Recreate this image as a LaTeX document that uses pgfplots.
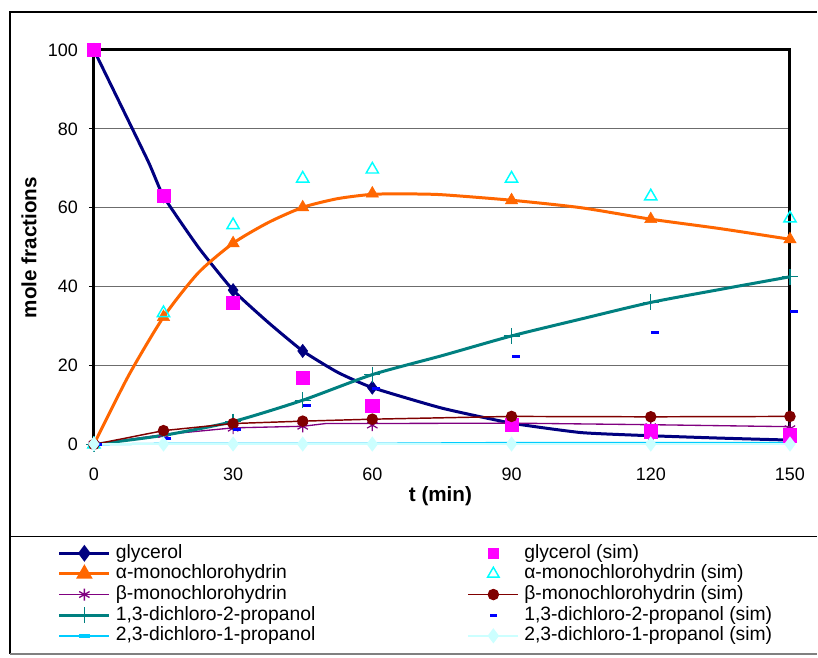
\documentclass[border=0pt]{standalone}
\usepackage{pgfplots}
\pgfplotsset{compat=1.18}
\usepackage{fontspec}
\setmainfont{Liberation Sans}
\definecolor{navyc}{HTML}{000080}
\definecolor{orangec}{HTML}{FF6600}
\definecolor{purplec}{HTML}{800080}
\definecolor{tealc}{HTML}{008080}
\definecolor{skyc}{HTML}{00CCFF}
\definecolor{magc}{HTML}{FF00FF}
\definecolor{cyanc}{HTML}{00FFFF}
\definecolor{darkredc}{HTML}{800000}
\definecolor{bluec}{HTML}{0000FF}
\definecolor{lightcyanc}{HTML}{CCFFFF}
\begin{document}
\begin{tikzpicture}
\path[fill=white] (0,0) rectangle (613.5pt,493.5pt);
\draw[line width=1.1pt] (613.5pt,484.5pt) -- (7.5pt,484.5pt) -- (7.5pt,2.25pt);
\draw[line width=1.6pt, gray] (7.5pt,2.25pt) -- (613.5pt,2.25pt);
\draw[line width=0.8pt] (7.5pt,90.75pt) -- (613.5pt,90.75pt);
\node[font=\bfseries\fontsize{15.5}{18}\selectfont] at (330.75pt,120.75pt) {t (min)};
\node[font=\bfseries\fontsize{15.5}{18}\selectfont, rotate=90] at (21.75pt,307.5pt) {mole fractions};
\begin{axis}[
  at={(70.5pt,159.75pt)}, anchor=south west,
  scale only axis, width=522.75pt, height=296.25pt,
  xmin=0, xmax=150, ymin=0, ymax=100,
  xtick={0,30,...,150}, ytick={0,20,...,100},
  /pgf/number format/assume math mode=true,
  axis line style={draw=none},
  clip=false,
  ymajorgrids, grid style={line width=0.8pt, gray!85!black},
  tick align=outside, major tick length=3.75pt,
  ytick pos=left, xtick pos=bottom,
  xtick style={draw=none},
  ytick style={black, line width=0.6pt},
  tick label style={font=\fontsize{13.5}{16}\selectfont, inner sep=0pt},
  yticklabel style={xshift=-8pt},
  xticklabel style={yshift=-13.5pt},
  legend columns=2,
  legend cell align=left,
  legend image code/.code={\draw[mark repeat=2,mark phase=2,#1] plot coordinates {(0pt,0pt)(18.75pt,0pt)(37.5pt,0pt)};},
  legend style={draw=none, fill=none, inner sep=0pt, outer sep=0pt,
    at={(axis description cs:-0.05165,-0.2514)}, anchor=north west,
    font=\fontsize{14.5}{17}\selectfont,
    nodes={inner sep=0pt, text height=11pt, text depth=3.5pt},
    row sep=1pt,
    /tikz/column 1/.style={column sep=3.75pt},
    /tikz/column 3/.style={column sep=3.75pt},
    /tikz/column 2/.style={nodes={text width=264pt}}},
]
% frame
\draw[line width=2.25pt, black] (rel axis cs:0,0) -- (rel axis cs:0,1) -- (rel axis cs:1,1) -- (rel axis cs:1,0);
\draw[line width=0.8pt, black] (rel axis cs:0,0) -- (rel axis cs:1,0);

% glycerol
\addplot[navyc, line width=2.25pt, smooth, tension=0.3, forget plot] coordinates {
(0,100)(11.6,72)(15,62.9)(22.5,50)(30,39.1)(37.5,31)(45,23.7)(52.5,18.3)(60,14.4)(75,9.2)(90,5.4)(105,3.0)(120,2.2)(135,1.6)(150,1.1)};
\addplot[only marks, mark=diamond*, mark size=5pt, navyc, forget plot] coordinates {
(0,100)(15,62.9)(30,39.1)(45,23.7)(60,14.4)(90,5.4)(120,2.2)(150,1.1)};
% alpha
\addplot[orangec, line width=2.25pt, smooth, tension=0.4, forget plot] coordinates {
(0,0)(7.5,17.5)(15,32.3)(22.5,43.5)(30,51)(37.5,56.2)(45,60.1)(52.5,62.3)(60,63.4)(67.5,63.5)(75,63.3)(90,61.9)(105,60)(120,57.1)(135,54.7)(150,52)};
\addplot[only marks, mark=triangle*, mark size=5.3pt, orangec, forget plot] coordinates {
(0,0)(15,32.3)(30,51)(45,60.1)(60,63.6)(90,61.9)(120,57.1)(150,52)};
% beta
\addplot[purplec, line width=1pt, forget plot] coordinates {
(0,0)(15,2.5)(30,4.2)(45,4.6)(50,5.3)(60,5.3)(90,5.4)(120,5)(150,4.5)};
\addplot[only marks, mark=asterisk, mark size=4.5pt, purplec, line width=0.9pt, forget plot] coordinates {
(0,0)(15,2.5)(30,4.1)(45,4.6)(60,4.9)(90,4.9)(120,4.5)(150,4.0)};
% 1,3-dichloro-2-propanol
\addplot[tealc, line width=2.25pt, smooth, tension=0.4, forget plot] coordinates {
(0,0)(15,2.3)(30,5.8)(45,11.2)(60,17.7)(75,22.5)(90,27.5)(105,31.8)(120,36)(135,39.3)(150,42.5)};
\addplot[only marks, mark=+, mark size=6pt, tealc, line width=1pt, forget plot] coordinates {
(0,0)(15,2.3)(30,5.8)(45,11.2)(60,17.7)(90,27.5)(120,36)(150,42.5)};
% 2,3-dichloro-1-propanol
\addplot[skyc, line width=1.5pt, mark=-, mark size=3pt, mark options={line width=2pt}, forget plot] coordinates {
(0,0)(15,0.2)(30,0.2)(45,0.2)(60,0.2)(90,0.4)(120,0.4)(150,0.4)};
% glycerol sim
\addplot[only marks, mark=square*, mark size=5pt, magc, forget plot] coordinates {
(0,100)(15,63)(30,35.9)(45,16.9)(60,9.8)(90,5)(120,3.3)(150,2.3)};
% alpha sim
\addplot[only marks, mark=triangle, mark size=5.3pt, cyanc, line width=1.1pt, forget plot] coordinates {
(0,0)(15,33.3)(30,55.6)(45,67.4)(60,69.7)(90,67.4)(120,62.9)(150,57.3)};
% beta sim
\addplot[darkredc, line width=1.1pt, mark=*, mark size=3.75pt, forget plot] coordinates {
(0,0)(15,3.5)(30,5.3)(45,5.9)(60,6.4)(90,7.1)(120,7.0)(150,7.1)};
% 1,3 sim
\addplot[only marks, mark=-, mark size=3pt, bluec, line width=2.25pt, mark options={xshift=3pt}, forget plot] coordinates {
(0,0)(15,1.5)(30,3.8)(45,9.9)(60,14.1)(90,22.2)(120,28.4)(150,33.7)};
% 2,3 sim
\addplot[lightcyanc, line width=1.5pt, mark=diamond*, mark size=4.5pt, forget plot] coordinates {
(0,0.1)(15,0.1)(30,0.1)(45,0.1)(60,0.1)(90,0.1)(120,0.1)(150,0.1)};

% legend
\addlegendimage{navyc, line width=2.25pt, mark=diamond*, mark size=4.5pt}
\addlegendentry{glycerol}
\addlegendimage{only marks, mark=square*, mark size=4pt, magc}
\addlegendentry{glycerol (sim)}
\addlegendimage{orangec, line width=2.25pt, mark=triangle*, mark size=5pt}
\addlegendentry{α-monochlorohydrin}
\addlegendimage{only marks, mark=triangle, mark size=5pt, cyanc, line width=1.1pt}
\addlegendentry{α-monochlorohydrin (sim)}
\addlegendimage{purplec, line width=1pt, mark=asterisk, mark size=4.5pt}
\addlegendentry{β-monochlorohydrin}
\addlegendimage{darkredc, line width=1.1pt, mark=*, mark size=3.75pt}
\addlegendentry{β-monochlorohydrin (sim)}
\addlegendimage{tealc, line width=2.25pt, mark=+, mark size=6pt, mark options={line width=1pt}}
\addlegendentry{1,3-dichloro-2-propanol}
\addlegendimage{only marks, mark=-, mark size=2.5pt, bluec, line width=2.25pt}
\addlegendentry{1,3-dichloro-2-propanol (sim)}
\addlegendimage{skyc, line width=1.5pt, mark=-, mark size=4pt, mark options={line width=3pt}}
\addlegendentry{2,3-dichloro-1-propanol}
\addlegendimage{lightcyanc, line width=1.5pt, mark=diamond*, mark size=4.5pt}
\addlegendentry{2,3-dichloro-1-propanol (sim)}
\end{axis}
\end{tikzpicture}
\end{document}
